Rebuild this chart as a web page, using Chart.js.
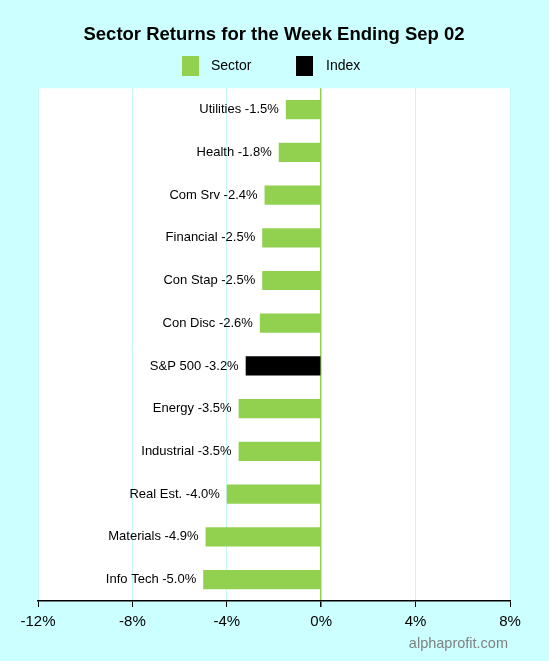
<!DOCTYPE html>
<html>
<head>
<meta charset="UTF-8">
<title>Sector Returns</title>
<script src="https://cdn.jsdelivr.net/npm/chart.js"></script>
<style>
    body { margin: 0; background-color: #ccffff; }
    .wrap { position: relative; width: 549px; height: 661px; }
</style>
</head>
<body>
<div class="wrap"><canvas id="sectorChart"></canvas></div>
<script>
// data
const sectors = ['Utilities', 'Health', 'Com Srv', 'Financial', 'Con Stap', 'Con Disc',
                 'S&P 500', 'Energy', 'Industrial', 'Real Est.', 'Materials', 'Info Tech'];
const returns = [-1.5, -1.8, -2.4, -2.5, -2.5, -2.6, -3.2, -3.5, -3.5, -4.0, -4.9, -5.0];
const isIndex = [false, false, false, false, false, false, true, false, false, false, false, false];
const xTicks = [-12, -8, -4, 0, 4, 8];

const green = '#92d050';
const FONT = 'Arial, "Liberation Sans", sans-serif';

// paints the cyan page and the white plot area
const backdrop = {
    id: 'backdrop',
    beforeDraw(chart) {
        const { ctx, chartArea: a } = chart;
        ctx.save();
        ctx.fillStyle = '#ccffff';
        ctx.fillRect(0, 0, chart.width, chart.height);
        ctx.fillStyle = '#ffffff';
        ctx.fillRect(a.left, a.top, a.right - a.left, a.bottom - a.top);
        ctx.restore();
    }
};

// legend, text label left of each bar, watermark
const extras = {
    id: 'extras',
    afterDraw(chart) {
        const { ctx } = chart;
        ctx.save();
        ctx.textBaseline = 'middle';

        // legend
        ctx.font = '14px ' + FONT;
        ctx.textAlign = 'left';
        ctx.fillStyle = green;
        ctx.fillRect(182, 56, 17, 20);
        ctx.fillStyle = '#000';
        ctx.fillText('Sector', 211, 66);
        ctx.fillRect(296, 56, 17, 20);
        ctx.fillText('Index', 326, 66);

        // bar labels
        const meta = chart.getDatasetMeta(0);
        ctx.font = '13px ' + FONT;
        ctx.textAlign = 'right';
        meta.data.forEach((bar, i) => {
            const txt = sectors[i] + ' ' + returns[i].toFixed(1) + '%';
            ctx.fillText(txt, Math.min(bar.x, bar.base) - 7, bar.y);
        });

        // watermark
        ctx.font = '14.5px ' + FONT;
        ctx.fillStyle = '#808080';
        ctx.fillText('alphaprofit.com', chart.chartArea.right - 2, 644);
        ctx.restore();
    }
};

new Chart(document.getElementById('sectorChart').getContext('2d'), {
    type: 'bar',
    data: {
        labels: sectors,
        datasets: [{
            label: 'Returns',
            data: returns,
            backgroundColor: isIndex.map(f => f ? '#000000' : green),
            borderWidth: 0,
            barPercentage: 0.45,
            categoryPercentage: 1.0
        }]
    },
    options: {
        indexAxis: 'y',
        responsive: true,
        maintainAspectRatio: false,
        animation: false,
        layout: { padding: { left: 38, right: 39, top: 0, bottom: 24 } },
        plugins: {
            tooltip: { enabled: false },
            legend: { display: false },
            title: {
                display: true,
                text: 'Sector Returns for the Week Ending Sep 02',
                color: '#000',
                font: { family: FONT, size: 18.5, weight: 'bold' },
                padding: { top: 24, bottom: 42 }
            }
        },
        scales: {
            x: {
                min: -12,
                max: 8,
                afterBuildTicks: axis => { axis.ticks = xTicks.map(v => ({ value: v })); },
                ticks: {
                    color: '#000',
                    font: { family: FONT, size: 15 },
                    padding: 6,
                    callback: v => v + '%'
                },
                grid: {
                    color: ctx => ctx.tick && ctx.tick.value === 0 ? green : '#c6f7f7',
                    lineWidth: ctx => ctx.tick && ctx.tick.value === 0 ? 1.5 : 1,
                    tickColor: '#000',
                    tickLength: 6
                },
                border: { color: '#000', width: 1.5 }
            },
            y: {
                display: false,
                grid: { display: false }
            }
        }
    },
    plugins: [backdrop, extras]
});
</script>
</body>
</html>
